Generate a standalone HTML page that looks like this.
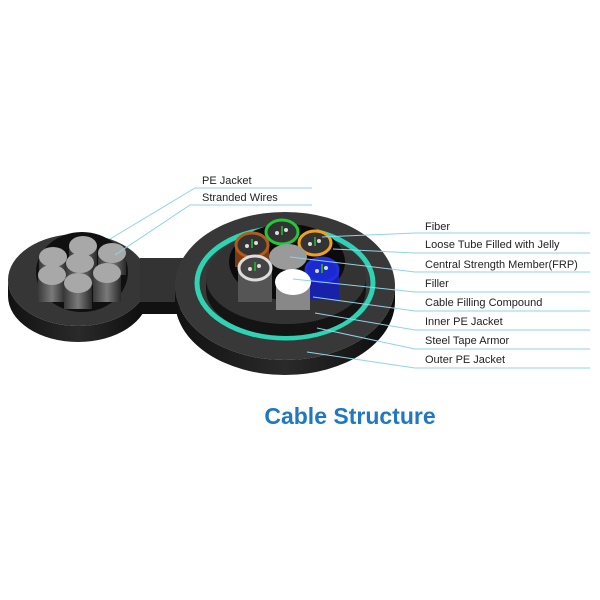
<!DOCTYPE html><html><head><style>body{margin:0;background:#fff}svg{display:block}</style></head><body>
<svg width="600" height="600" viewBox="0 0 600 600" xmlns="http://www.w3.org/2000/svg" font-family="Liberation Sans, sans-serif">
<defs>
<linearGradient id="side" x1="0" x2="1"><stop offset="0" stop-color="#111"/><stop offset=".5" stop-color="#2a2a2a"/><stop offset="1" stop-color="#0c0c0c"/></linearGradient>
<linearGradient id="cyl" x1="0" x2="1"><stop offset="0" stop-color="#3a3a3a"/><stop offset=".5" stop-color="#7a7a7a"/><stop offset="1" stop-color="#2a2a2a"/></linearGradient>
</defs>
<!-- left cable -->
<path d="M8,280 A70,46 0 0 0 148,280 L148,296 A70,46 0 0 1 8,296 Z" fill="url(#side)"/>
<ellipse cx="78" cy="280" rx="70" ry="46" fill="#363636"/>
<!-- bridge -->
<rect x="140" y="258" width="45" height="44" fill="#333"/>
<rect x="140" y="302" width="40" height="12" fill="#111"/>
<!-- big cable -->
<path d="M175,286 A110,74 0 0 0 395,286 L395,301 A110,74 0 0 1 175,301 Z" fill="url(#side)"/>
<ellipse cx="285" cy="286" rx="110" ry="74" fill="#383838"/>
<ellipse cx="285" cy="283" rx="88" ry="55" fill="none" stroke="#2fd3b3" stroke-width="5"/>
<path d="M206,278 A80,46 0 0 0 366,278 L366,290 A80,46 0 0 1 206,290 Z" fill="#141414"/>
<ellipse cx="286" cy="278" rx="80" ry="46" fill="#333"/>
<ellipse cx="287" cy="262" rx="58" ry="38" fill="#0b0b0b"/>
<!-- left wires hole -->
<ellipse cx="82" cy="272" rx="46" ry="40" fill="#101010"/>
<g fill="url(#cyl)">
<rect x="39" y="257" width="28" height="22"/><rect x="69" y="246" width="28" height="22"/><rect x="98" y="253" width="28" height="22"/><rect x="66" y="263" width="28" height="22"/><rect x="38" y="275" width="28" height="27"/><rect x="93" y="273" width="28" height="29"/><rect x="64" y="283" width="28" height="26"/>
</g>
<g fill="#a8a8a8">
<ellipse cx="53" cy="257" rx="14" ry="10"/><ellipse cx="83" cy="246" rx="14" ry="10"/><ellipse cx="112" cy="253" rx="14" ry="10"/><ellipse cx="80" cy="263" rx="14" ry="10"/><ellipse cx="52" cy="275" rx="14" ry="10"/><ellipse cx="107" cy="273" rx="14" ry="10"/><ellipse cx="78" cy="283" rx="14" ry="10"/>
</g>
<!-- tubes -->
<rect x="235" y="245" width="34" height="22" fill="#7a3a14"/>
<rect x="238" y="268" width="34" height="34" fill="#555"/>
<rect x="305" y="270" width="34" height="30" fill="#1822a8"/>
<rect x="276" y="282" width="34" height="28" fill="#888"/>
<g stroke-width="3">
<ellipse cx="282" cy="232" rx="16" ry="12" fill="#333" stroke="#22c83a"/>
<ellipse cx="252" cy="245" rx="16" ry="12" fill="#333" stroke="#b55a1a"/>
<ellipse cx="315" cy="243" rx="16" ry="12" fill="#333" stroke="#f0a020"/>
<ellipse cx="255" cy="268" rx="16" ry="12" fill="#444" stroke="#ddd"/>
<ellipse cx="322" cy="270" rx="16" ry="12" fill="#1a2ad0" stroke="#2030e0"/>
</g>
<g fill="#ddd"><circle cx="277" cy="233" r="2"/><circle cx="286" cy="230" r="2"/><circle cx="247" cy="246" r="2"/><circle cx="256" cy="243" r="2"/><circle cx="310" cy="244" r="2"/><circle cx="319" cy="241" r="2"/><circle cx="250" cy="269" r="2"/><circle cx="259" cy="266" r="2"/><circle cx="317" cy="271" r="2"/><circle cx="326" cy="268" r="2"/></g>
<g fill="#2a9a3a"><rect x="281" y="226" width="2" height="9"/><rect x="251" y="239" width="2" height="9"/><rect x="314" y="237" width="2" height="9"/><rect x="254" y="262" width="2" height="9"/><rect x="321" y="264" width="2" height="9"/></g>
<ellipse cx="288" cy="257" rx="19" ry="13" fill="#9a9a9a"/>
<ellipse cx="293" cy="282" rx="18" ry="13" fill="#fff"/>
<!-- leaders -->
<g stroke="#8fd3e8" stroke-width="1" fill="none">
<polyline points="110,239 195,188 312,188"/>
<polyline points="115,255 190,205 312,205"/>
<polyline points="322,237 415,233 590,233"/>
<polyline points="333,249 415,253 590,253"/>
<polyline points="290,257 415,272 590,272"/>
<polyline points="293,279 415,292 590,292"/>
<polyline points="313,297 415,311 590,311"/>
<polyline points="315,313 415,330 590,330"/>
<polyline points="317,328 415,349 590,349"/>
<polyline points="307,352 415,368 590,368"/>
</g>
<g font-size="11" fill="#222">
<text x="202" y="184">PE Jacket</text><text x="202" y="201">Stranded Wires</text>
<text x="425" y="230">Fiber</text><text x="425" y="248">Loose Tube Filled with Jelly</text><text x="425" y="268">Central Strength Member(FRP)</text><text x="425" y="287">Filler</text><text x="425" y="306">Cable Filling Compound</text><text x="425" y="325">Inner PE Jacket</text><text x="425" y="344">Steel Tape Armor</text><text x="425" y="363">Outer PE Jacket</text>
</g>
<text x="350" y="424" text-anchor="middle" font-size="23" font-weight="bold" fill="#1f78c1">Cable Structure</text>
</svg></body></html>
